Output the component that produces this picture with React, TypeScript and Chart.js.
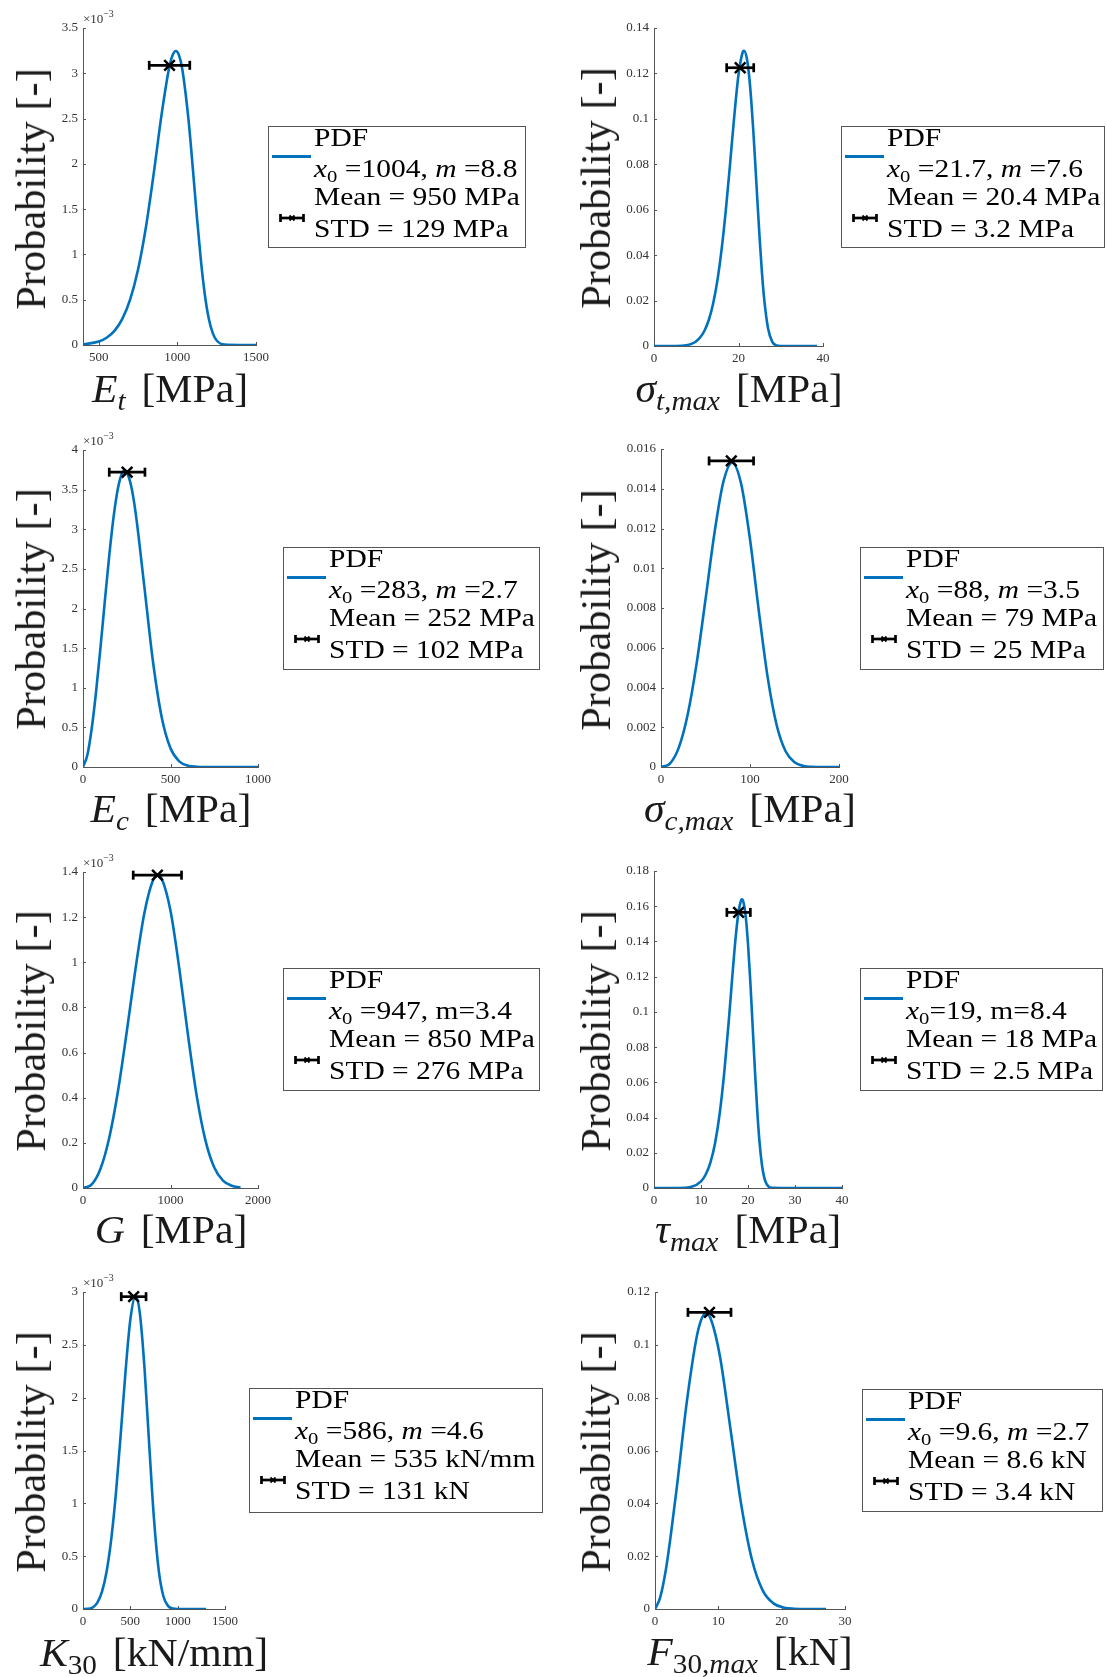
import React, { useEffect, useRef } from 'react';
import { Chart, registerables } from 'chart.js';

Chart.register(...registerables);

const FONT = "'Liberation Serif', 'Times New Roman', serif";
const BLUE = '#0072BD';
const AXIS = '#555555';
const TICKTXT = '#333333';

// ---------------- data ----------------
const etX = [400, 500, 550, 600, 650, 700, 750, 800, 850, 900, 950, 970, 990, 1010, 1030, 1070, 1100, 1125, 1150, 1175, 1200, 1225, 1250, 1300, 1400, 1500];
const etPdf = [0.0000067, 0.000038, 0.00008, 0.000156, 0.000289, 0.000504, 0.000834, 0.001301, 0.001898, 0.002549, 0.00308, 0.003201, 0.003246, 0.003201, 0.003058, 0.002501, 0.001915, 0.001399, 0.000929, 0.000552, 0.000289, 0.000131, 0.00005, 0.000004, 0, 0];

const stX = [0, 5, 8, 9, 10, 11, 12, 13, 14, 15, 16, 17, 18, 19, 20, 21, 21.3, 22, 22.5, 23, 23.5, 24, 24.5, 25, 25.5, 26, 27, 28, 29, 30, 35, 38.6];
const stPdf = [0, 0.00002, 0.00048, 0.00105, 0.0021, 0.00393, 0.00694, 0.01166, 0.01874, 0.0288, 0.0425, 0.0598, 0.0801, 0.1012, 0.1194, 0.1294, 0.13, 0.1264, 0.1192, 0.1085, 0.09487, 0.0793, 0.06306, 0.0475, 0.03365, 0.0222, 0.00767, 0.00182, 0.00028, 0.00002, 0, 0];

const ecX = [0, 25, 50, 75, 100, 125, 150, 175, 200, 225, 238, 250, 275, 300, 350, 400, 450, 500, 550, 600, 650, 700, 800, 1000];
const ecPdf = [0, 0.000152, 0.000489, 0.000956, 0.001509, 0.002099, 0.002667, 0.003159, 0.00352, 0.003715, 0.003742, 0.003721, 0.003548, 0.003219, 0.002286, 0.001328, 0.000625, 0.000236, 0.000071, 0.000017, 0.000003, 0, 0, 0];

const scX = [0, 10, 20, 30, 40, 50, 60, 70, 80, 90, 100, 110, 120, 130, 140, 150, 160, 170, 180, 200];
const scPdf = [0, 0.000173, 0.000974, 0.002639, 0.0052, 0.00843, 0.01175, 0.01433, 0.01531, 0.01426, 0.01146, 0.00782, 0.00447, 0.0021, 0.00079, 0.000235, 0.000054, 0.00001, 0, 0];

const gX = [0, 100, 200, 300, 400, 500, 600, 700, 800, 855, 900, 1000, 1100, 1200, 1300, 1400, 1500, 1600, 1700, 1800];
const gPdf = [0, 0.0000163, 0.0000856, 0.000223, 0.00043, 0.000692, 0.000971, 0.001215, 0.001363, 0.001386, 0.00137, 0.001228, 0.000974, 0.000677, 0.000407, 0.00021, 0.000091, 0.000033, 0.0000098, 0.000002];

const tauX = [0, 5, 8, 10, 11, 12, 13, 14, 15, 16, 16.5, 17, 17.5, 18, 18.5, 18.7, 19, 19.5, 20, 20.5, 21, 21.5, 22, 22.5, 23, 23.5, 24, 25, 30, 40];
const tauPdf = [0, 0.000023, 0.000735, 0.0038, 0.00766, 0.01444, 0.02559, 0.04274, 0.06702, 0.09787, 0.1146, 0.1311, 0.1457, 0.157, 0.1632, 0.1639, 0.1626, 0.1545, 0.1387, 0.1169, 0.0913, 0.06549, 0.04254, 0.02463, 0.01251, 0.0055, 0.00202, 0.00015, 0, 0];

const kX = [0, 50, 100, 150, 200, 250, 300, 350, 400, 450, 500, 555, 600, 650, 700, 750, 800, 850, 900, 950, 1000, 1100, 1300];
const kPdf = [0, 0.0000011, 0.0000135, 0.000058, 0.0001626, 0.000358, 0.000673, 0.001118, 0.001671, 0.002255, 0.002738, 0.002962, 0.002803, 0.002277, 0.001545, 0.00085, 0.000366, 0.000118, 0.0000275, 0.0000044, 0, 0, 0];

const fX = [0, 0.8, 1.7, 2.5, 3.4, 5.1, 6.8, 8.1, 8.5, 10.2, 11.9, 13.6, 15.3, 17, 18.7, 20.4, 22, 24, 27];
const fPdf = [0, 0.0042, 0.01464, 0.0281, 0.04518, 0.07982, 0.1054, 0.112, 0.1114, 0.09634, 0.06842, 0.03973, 0.01873, 0.00707, 0.00213, 0.0005, 0.0001, 0, 0];

// mean / std error bars (Et, σt, Ec, σc, G, τ, K30, F30)
const statMeans = [950, 20.4, 252, 79, 850, 18, 535, 8.6];
const statStds = [129, 3.2, 102, 25, 276, 2.5, 131, 3.4];
const statLevels = [0.003088, 0.1225, 0.00372, 0.0154, 0.001386, 0.1565, 0.002956, 0.1123];

// tick values
const etXTicks = [500, 1000, 1500];
const etYTicks = [0, 0.0005, 0.001, 0.0015, 0.002, 0.0025, 0.003, 0.0035];
const stXTicks = [0, 20, 40];
const stYTicks = [0, 0.02, 0.04, 0.06, 0.08, 0.1, 0.12, 0.14];
const ecXTicks = [0, 500, 1000];
const ecYTicks = [0, 0.0005, 0.001, 0.0015, 0.002, 0.0025, 0.003, 0.0035, 0.004];
const scXTicks = [0, 100, 200];
const scYTicks = [0, 0.002, 0.004, 0.006, 0.008, 0.01, 0.012, 0.014, 0.016];
const gXTicks = [0, 1000, 2000];
const gYTicks = [0, 0.0002, 0.0004, 0.0006, 0.0008, 0.001, 0.0012, 0.0014];
const tauXTicks = [0, 10, 20, 30, 40];
const tauYTicks = [0, 0.02, 0.04, 0.06, 0.08, 0.1, 0.12, 0.14, 0.16, 0.18];
const kXTicks = [0, 500, 1000, 1500];
const kYTicks = [0, 0.0005, 0.001, 0.0015, 0.002, 0.0025, 0.003];
const fXTicks = [0, 10, 20, 30];
const fYTicks = [0, 0.02, 0.04, 0.06, 0.08, 0.1, 0.12];

// ---------------- layout helpers ----------------
const PADL = 50;
const PADT = 16;
const PADR = 26;
const PADB = 28;

const Sub = ({ children }: { children: React.ReactNode }) => (
  <span style={{ fontSize: '0.7em', position: 'relative', top: '0.28em' }}>{children}</span>
);
const Gap = () => <span style={{ display: 'inline-block', width: '0.38em' }} />;
const X0 = () => (
  <>
    <i>x</i>
    <Sub>0</Sub>
  </>
);

type PanelCfg = {
  xs: number[];
  ys: number[];
  k: number;
  xMin: number;
  xMax: number;
  yMax: number;
  xTicks: number[];
  yTicks: number[];
  factor: number;
  box: [number, number, number, number];
  legend: [number, number, number, number];
  lines: React.ReactNode[];
  xTitle: React.ReactNode;
  xBase: number;
  yCenter: [number, number];
};

const panels: PanelCfg[] = [
  {
    xs: etX, ys: etPdf, k: 0, xMin: 400, xMax: 1500, yMax: 0.0035, xTicks: etXTicks, yTicks: etYTicks, factor: 1000,
    box: [83, 28, 256, 345], legend: [268, 126, 258, 122],
    lines: ['PDF', <><X0 /> =1004, <i>m</i> =8.8</>, 'Mean = 950 MPa', 'STD = 129 MPa'],
    xTitle: <><i>E</i><Sub><i>t</i></Sub><Gap />[MPa]</>, xBase: 402, yCenter: [31, 189],
  },
  {
    xs: stX, ys: stPdf, k: 1, xMin: 0, xMax: 40, yMax: 0.14, xTicks: stXTicks, yTicks: stYTicks, factor: 1,
    box: [654, 28, 823, 346], legend: [841, 126, 264, 122],
    lines: ['PDF', <><X0 /> =21.7, <i>m</i> =7.6</>, 'Mean = 20.4 MPa', 'STD = 3.2 MPa'],
    xTitle: <><i>σ</i><Sub><i>t,max</i></Sub><Gap />[MPa]</>, xBase: 402, yCenter: [596, 188],
  },
  {
    xs: ecX, ys: ecPdf, k: 2, xMin: 0, xMax: 1000, yMax: 0.004, xTicks: ecXTicks, yTicks: ecYTicks, factor: 1000,
    box: [83, 450, 258, 767], legend: [283, 547, 257, 123],
    lines: ['PDF', <><X0 /> =283, <i>m</i> =2.7</>, 'Mean = 252 MPa', 'STD = 102 MPa'],
    xTitle: <><i>E</i><Sub><i>c</i></Sub><Gap />[MPa]</>, xBase: 822, yCenter: [31, 609],
  },
  {
    xs: scX, ys: scPdf, k: 3, xMin: 0, xMax: 200, yMax: 0.016, xTicks: scXTicks, yTicks: scYTicks, factor: 1,
    box: [661, 449, 839, 767], legend: [860, 547, 244, 123],
    lines: ['PDF', <><X0 /> =88, <i>m</i> =3.5</>, 'Mean = 79 MPa', 'STD = 25 MPa'],
    xTitle: <><i>σ</i><Sub><i>c,max</i></Sub><Gap />[MPa]</>, xBase: 822, yCenter: [596, 610],
  },
  {
    xs: gX, ys: gPdf, k: 4, xMin: 0, xMax: 2000, yMax: 0.0014, xTicks: gXTicks, yTicks: gYTicks, factor: 1000,
    box: [83, 872, 258, 1188], legend: [283, 968, 257, 123],
    lines: ['PDF', <><X0 /> =947, m=3.4</>, 'Mean = 850 MPa', 'STD = 276 MPa'],
    xTitle: <><i>G</i><Gap />[MPa]</>, xBase: 1243, yCenter: [31, 1031],
  },
  {
    xs: tauX, ys: tauPdf, k: 5, xMin: 0, xMax: 40, yMax: 0.18, xTicks: tauXTicks, yTicks: tauYTicks, factor: 1,
    box: [654, 871, 842, 1188], legend: [860, 968, 243, 123],
    lines: ['PDF', <><X0 />=19, m=8.4</>, 'Mean = 18 MPa', 'STD = 2.5 MPa'],
    xTitle: <><i>τ</i><Sub><i>max</i></Sub><Gap />[MPa]</>, xBase: 1243, yCenter: [596, 1031],
  },
  {
    xs: kX, ys: kPdf, k: 6, xMin: 0, xMax: 1500, yMax: 0.003, xTicks: kXTicks, yTicks: kYTicks, factor: 1000,
    box: [83, 1292, 225, 1609], legend: [249, 1388, 294, 125],
    lines: ['PDF', <><X0 /> =586, <i>m</i> =4.6</>, 'Mean = 535 kN/mm', 'STD = 131 kN'],
    xTitle: <><i>K</i><Sub>30</Sub><Gap />[kN/mm]</>, xBase: 1666, yCenter: [31, 1452],
  },
  {
    xs: fX, ys: fPdf, k: 7, xMin: 0, xMax: 30, yMax: 0.12, xTicks: fXTicks, yTicks: fYTicks, factor: 1,
    box: [655, 1292, 845, 1609], legend: [862, 1389, 241, 123],
    lines: ['PDF', <><X0 /> =9.6, <i>m</i> =2.7</>, 'Mean = 8.6 kN', 'STD = 3.4 kN'],
    xTitle: <><i>F</i><Sub>30,<i>max</i></Sub><Gap />[kN]</>, xBase: 1665, yCenter: [596, 1452],
  },
];

const fmt = (v: number) => String(Number(v.toPrecision(6)));

const inwardTicks = {
  id: 'inwardTicks',
  beforeDatasetsDraw(chart: any) {
    const { ctx, chartArea: a, scales } = chart;
    ctx.save();
    ctx.strokeStyle = AXIS;
    ctx.lineWidth = 1;
    ctx.beginPath();
    scales.x.ticks.forEach((t: any) => {
      const p = Math.round(scales.x.getPixelForValue(t.value)) + 0.5;
      ctx.moveTo(p, a.bottom);
      ctx.lineTo(p, a.bottom - 3);
    });
    scales.y.ticks.forEach((t: any) => {
      const p = Math.round(scales.y.getPixelForValue(t.value)) + 0.5;
      ctx.moveTo(a.left, p);
      ctx.lineTo(a.left + 3, p);
    });
    ctx.stroke();
    ctx.restore();
  },
};

function PanelChart({ cfg }: { cfg: PanelCfg }) {
  const ref = useRef<HTMLCanvasElement>(null);
  const [L, T, R, B] = cfg.box;
  const w = R - L + PADL + PADR;
  const h = B - T + PADT + PADB;

  useEffect(() => {
    const mean = statMeans[cfg.k];
    const std = statStds[cfg.k];
    const lvl = statLevels[cfg.k];
    const tickFont = { family: FONT, size: 13 };
    const chart = new Chart(ref.current as HTMLCanvasElement, {
      type: 'line',
      data: {
        datasets: [
          {
            data: [{ x: mean, y: lvl }],
            showLine: false,
            pointStyle: 'crossRot',
            pointRadius: 7.5,
            pointBorderWidth: 2.5,
            pointBorderColor: '#000',
            borderColor: '#000',
            clip: false,
          } as any,
          {
            data: [{ x: mean - std, y: lvl }, { x: mean + std, y: lvl }],
            showLine: true,
            borderColor: '#000',
            borderWidth: 2.7,
            pointStyle: 'line',
            pointRotation: 90,
            pointRadius: 4.5,
            pointBorderWidth: 2.7,
            pointBorderColor: '#000',
            clip: false,
          } as any,
          {
            data: cfg.xs.map((x, i) => ({ x, y: cfg.ys[i] })),
            borderColor: BLUE,
            borderWidth: 2.6,
            pointRadius: 0,
            cubicInterpolationMode: 'monotone',
            fill: false,
          } as any,
        ],
      },
      options: {
        animation: false,
        responsive: false,
        maintainAspectRatio: false,
        events: [],
        layout: { padding: { top: PADT, right: PADR, left: 0, bottom: 0 } },
        plugins: { legend: { display: false }, tooltip: { enabled: false } },
        scales: {
          x: {
            type: 'linear',
            min: cfg.xMin,
            max: cfg.xMax,
            grid: { display: false, drawTicks: false, tickLength: 0 },
            border: { display: true, color: AXIS, width: 1 },
            ticks: {
              font: tickFont,
              color: TICKTXT,
              padding: 5,
              maxRotation: 0,
              autoSkip: false,
              callback: (v: any) => fmt(Number(v)),
            },
            afterBuildTicks: (s: any) => {
              s.ticks = cfg.xTicks.map((v) => ({ value: v }));
            },
            afterFit: (s: any) => {
              s.height = PADB;
            },
          },
          y: {
            type: 'linear',
            min: 0,
            max: cfg.yMax,
            grid: { display: false, drawTicks: false, tickLength: 0 },
            border: { display: true, color: AXIS, width: 1 },
            ticks: {
              font: tickFont,
              color: TICKTXT,
              padding: 5,
              autoSkip: false,
              callback: (v: any) => fmt(Number(v) * cfg.factor),
            },
            afterBuildTicks: (s: any) => {
              s.ticks = cfg.yTicks.map((v) => ({ value: v }));
            },
            afterFit: (s: any) => {
              s.width = PADL;
            },
          },
        },
      } as any,
      plugins: [inwardTicks],
    });
    return () => chart.destroy();
  }, [cfg]);

  return (
    <canvas
      ref={ref}
      width={w}
      height={h}
      style={{ position: 'absolute', left: L - PADL, top: T - PADT, width: w, height: h }}
    />
  );
}

const LEG_FS = 25;
const LEG_SX = 1.18;
const LEG_BASE = [19, 50, 78, 110];

function Legend({ cfg }: { cfg: PanelCfg }) {
  const [x, y, w, h] = cfg.legend;
  return (
    <div
      style={{
        position: 'absolute', left: x, top: y, width: w, height: h,
        border: '1px solid #555', boxSizing: 'border-box', background: '#fff',
      }}
    >
      <div style={{ position: 'absolute', left: 3, top: 28, width: 39, height: 2.5, background: BLUE }} />
      <svg width={26} height={12} style={{ position: 'absolute', left: 10, top: 85 }}>
        <line x1={1.5} y1={6} x2={24.5} y2={6} stroke="#000" strokeWidth={2.7} />
        <line x1={1.5} y1={2} x2={1.5} y2={10} stroke="#000" strokeWidth={2.7} />
        <line x1={24.5} y1={2} x2={24.5} y2={10} stroke="#000" strokeWidth={2.7} />
        <line x1={10.5} y1={3.5} x2={15.5} y2={8.5} stroke="#000" strokeWidth={1.8} />
        <line x1={10.5} y1={8.5} x2={15.5} y2={3.5} stroke="#000" strokeWidth={1.8} />
      </svg>
      {cfg.lines.map((ln, i) => (
        <div
          key={i}
          style={{
            position: 'absolute', left: 45, top: LEG_BASE[i] - 0.8375 * LEG_FS,
            fontSize: LEG_FS, lineHeight: `${LEG_FS}px`, whiteSpace: 'nowrap', color: '#000',
            transform: `scaleX(${LEG_SX})`, transformOrigin: 'left center',
          }}
        >
          {ln}
        </div>
      ))}
    </div>
  );
}

const TITLE_FS = 39;

function Titles({ cfg }: { cfg: PanelCfg }) {
  const [L, T, R] = cfg.box;
  const cx = (L + R) / 2;
  return (
    <>
      <div
        style={{
          position: 'absolute', left: cx, top: cfg.xBase - 0.8375 * TITLE_FS,
          fontSize: TITLE_FS, lineHeight: `${TITLE_FS}px`, whiteSpace: 'nowrap', color: '#1a1a1a',
          transform: 'translateX(-50%) scaleX(1.07)',
        }}
      >
        {cfg.xTitle}
      </div>
      <div
        style={{
          position: 'absolute', left: cfg.yCenter[0], top: cfg.yCenter[1],
          fontSize: 42, lineHeight: '42px', whiteSpace: 'nowrap', color: '#1a1a1a',
          transform: 'translate(-50%, -50%) rotate(-90deg) scaleX(1.01)',
        }}
      >
        Probability [-]
      </div>
      {cfg.factor !== 1 && (
        <div
          style={{
            position: 'absolute', left: L, top: T - 5 - 0.8375 * 13,
            fontSize: 13, lineHeight: '13px', whiteSpace: 'nowrap', color: TICKTXT,
          }}
        >
          ×10<span style={{ fontSize: '0.75em', position: 'relative', top: '-0.6em' }}>−3</span>
        </div>
      )}
    </>
  );
}

export default function App() {
  return (
    <div
      style={{
        position: 'absolute', left: 0, top: 0, width: 1107, height: 1677,
        background: '#fff', fontFamily: FONT, overflow: 'hidden',
      }}
    >
      {panels.map((p) => (
        <React.Fragment key={p.k}>
          <PanelChart cfg={p} />
          <Titles cfg={p} />
          <Legend cfg={p} />
        </React.Fragment>
      ))}
    </div>
  );
}
